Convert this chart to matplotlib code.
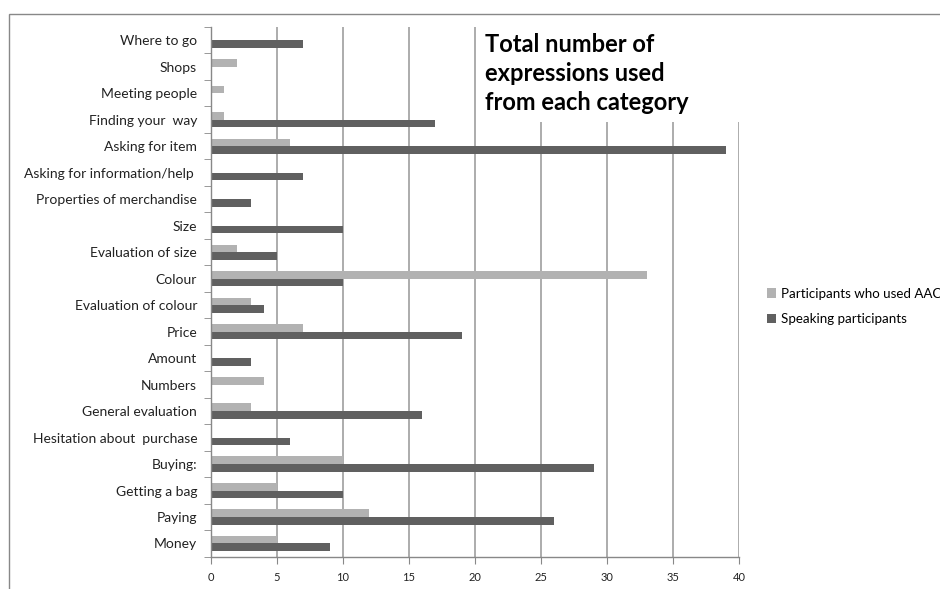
import matplotlib
matplotlib.use("Agg")
import matplotlib.pyplot as plt
from matplotlib.patches import Rectangle
import numpy as np

categories = [
    "Where to go", "Shops", "Meeting people", "Finding your  way",
    "Asking for item", "Asking for information/help ", "Properties of merchandise",
    "Size", "Evaluation of size", "Colour", "Evaluation of colour", "Price",
    "Amount", "Numbers", "General evaluation", "Hesitation about  purchase",
    "Buying:", "Getting a bag", "Paying", "Money",
]
aac_users = [0, 2, 1, 1, 6, 0, 0, 0, 2, 33, 3, 7, 0, 4, 3, 0, 10, 5, 12, 5]
speaking = [7, 0, 0, 17, 39, 7, 3, 10, 5, 10, 4, 19, 3, 0, 16, 6, 29, 10, 26, 9]
series_names = ["Participants who used AAC", "Speaking participants"]
x_ticks = [0, 5, 10, 15, 20, 25, 30, 35, 40]
title = "Total number of\nexpressions used\nfrom each category"

plt.rcParams["font.family"] = ["Lato", "DejaVu Sans"]

fig = plt.figure(figsize=(9.4, 5.89), dpi=100)
ax = fig.add_axes([0.2245, 0.0548, 0.5617, 0.8994])

light = "#b2b2b2"
dark = "#606060"
grid_c = "#a6a6a6"

n = len(categories)
y = np.arange(n)
h = 0.285
ax.barh(y - h / 2, aac_users, height=h, color=light, zorder=2, label=series_names[0])
ax.barh(y + h / 2, speaking, height=h, color=dark, zorder=2, label=series_names[1])

ax.set_ylim(n - 0.5, -0.5)
ax.set_xlim(0, 40)
ax.set_xticks(x_ticks)
ax.set_xticklabels([str(v) for v in x_ticks], fontsize=8, color="#222222")
ax.set_yticks(y)
ax.set_yticklabels(categories, fontsize=10, color="#222222")
ax.set_yticks(np.arange(-0.5, n, 1.0), minor=True)
ax.tick_params(axis="y", which="major", length=0, pad=10)
ax.tick_params(axis="y", which="minor", length=5, color="#888888", direction="out")
ax.tick_params(axis="x", length=5, color="#888888", direction="out", pad=6)

ax.grid(axis="x", color=grid_c, linewidth=1.3)
ax.set_axisbelow(True)
for side in ("top", "right"):
    ax.spines[side].set_visible(False)
for side in ("left", "bottom"):
    ax.spines[side].set_color("#888888")
    ax.spines[side].set_linewidth(1.0)

# white box behind the title, masking the gridlines there
ax.add_patch(Rectangle((0.506, 0.8207), 0.51, 0.19, transform=ax.transAxes,
                       facecolor="white", edgecolor="none", zorder=1, clip_on=False))
ax.text(0.518, 0.988, title, transform=ax.transAxes, fontsize=17, fontweight="bold",
        va="top", ha="left", linespacing=1.32, zorder=3, color="#000000")

fig.legend(loc="upper left", bbox_to_anchor=(0.803, 0.532), frameon=False,
           fontsize=9.6, handlelength=0.7, handleheight=0.7, handletextpad=0.4,
           labelspacing=1.0)

# outer chart frame
fig.add_artist(Rectangle((0.0096, -0.05), 1.1, 1.026, transform=fig.transFigure,
                         facecolor="none", edgecolor="#888888", linewidth=1.0))

fig.savefig("out.png", dpi=100)
